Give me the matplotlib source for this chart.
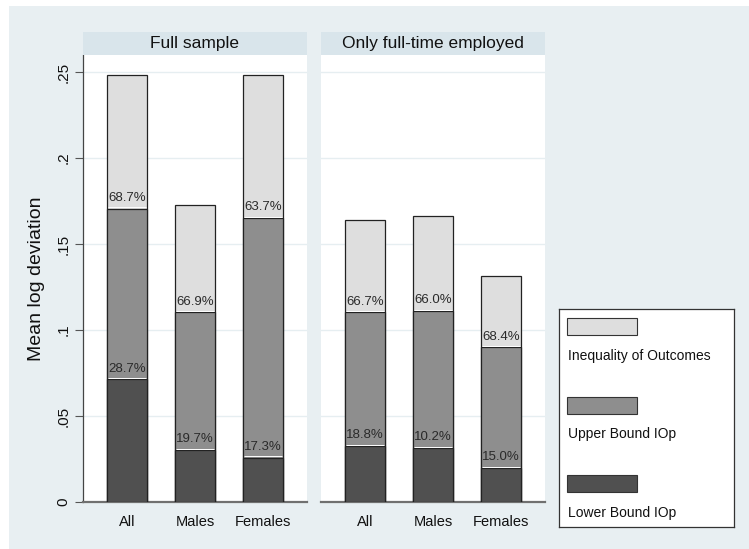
import matplotlib
matplotlib.use("Agg")
import matplotlib.pyplot as plt
from matplotlib.patches import Rectangle

plt.rcParams['font.family'] = ['Liberation Sans', 'DejaVu Sans']

# ---- data ----
categories = ["All", "Males", "Females"]
panels = ["Full sample", "Only full-time employed"]
# Mean log deviation (total inequality of outcomes), upper bound IOp, lower bound IOp
total_full = [0.2484, 0.1725, 0.2484]
upper_full = [0.1706, 0.1103, 0.1650]
lower_full = [0.0713, 0.0302, 0.0258]
total_ft = [0.1638, 0.1661, 0.1312]
upper_ft = [0.1103, 0.1110, 0.0899]
lower_ft = [0.0324, 0.0312, 0.0196]
upper_labels_full = ["68.7%", "66.9%", "63.7%"]
lower_labels_full = ["28.7%", "19.7%", "17.3%"]
upper_labels_ft = ["66.7%", "66.0%", "68.4%"]
lower_labels_ft = ["18.8%", "10.2%", "15.0%"]
yticks = [0, 0.05, 0.1, 0.15, 0.2, 0.25]
ytick_labels = ["0", ".05", ".1", ".15", ".2", ".25"]
legend_labels = ["Inequality of Outcomes", "Upper Bound IOp", "Lower Bound IOp"]

# ---- style ----
C_LIGHT = "#dedede"
C_MID = "#8e8e8e"
C_DARK = "#505050"
EDGE = "#222222"
BG = "#e8eff2"
STRIP = "#d9e5eb"
GRID = "#e6eef1"

W, H = 749, 549
fig = plt.figure(figsize=(W / 100, H / 100), dpi=100)
fig.patch.set_facecolor("white")
fig.patches.append(Rectangle((9 / W, 0), 1 - 9 / W, 1 - 6 / H, transform=fig.transFigure,
                             facecolor=BG, edgecolor="none", zorder=-10))

def px_rect(x0, y0, x1, y1):
    return [x0 / W, 1 - y1 / H, (x1 - x0) / W, (y1 - y0) / H]

data = [(total_full, upper_full, lower_full, upper_labels_full, lower_labels_full),
        (total_ft, upper_ft, lower_ft, upper_labels_ft, lower_labels_ft)]
xpos = [1, 2, 3]
half = 0.647
bw = 0.59

for i, (title, (tot, up, lo, ulab, llab)) in enumerate(zip(panels, data)):
    x0 = 83 if i == 0 else 321
    ax = fig.add_axes(px_rect(x0, 55, x0 + 224, 502))
    ax.set_facecolor("white")
    ax.bar(xpos, tot, width=bw, color=C_LIGHT, edgecolor=EDGE, linewidth=0.9, zorder=3)
    ax.bar(xpos, up, width=bw, color=C_MID, edgecolor=EDGE, linewidth=0.9, zorder=4)
    ax.bar(xpos, lo, width=bw, color=C_DARK, edgecolor=EDGE, linewidth=0.9, zorder=5)
    # thin white separators at segment boundaries
    ax.hlines([u + 0.0007 for u in up], [x - bw / 2 + 0.02 for x in xpos],
              [x + bw / 2 - 0.02 for x in xpos], colors="white", linewidth=0.7, zorder=6)
    ax.hlines([l + 0.0007 for l in lo], [x - bw / 2 + 0.02 for x in xpos],
              [x + bw / 2 - 0.02 for x in xpos], colors="white", linewidth=0.7, zorder=6)
    for x, u, l, ut, lt in zip(xpos, up, lo, ulab, llab):
        ax.annotate(ut, (x, u), xytext=(0, 3.5), textcoords="offset points",
                    ha="center", va="bottom", fontsize=9.5, color="#2a2a2a", zorder=7)
        ax.annotate(lt, (x, l), xytext=(0, 3.5), textcoords="offset points",
                    ha="center", va="bottom", fontsize=9.5, color="#2a2a2a", zorder=7)
    ax.set_xlim(1 - half, 3 + half)
    ax.set_ylim(0, 0.26)
    ax.set_yticks(yticks)
    ax.grid(axis="y", color=GRID, linewidth=1.0, zorder=0)
    ax.set_axisbelow(True)
    ax.set_xticks(xpos)
    ax.set_xticklabels(categories, fontsize=10.5, color="#111111")
    ax.tick_params(axis="x", length=0, pad=9)
    for s in ["top", "right"]:
        ax.spines[s].set_visible(False)
    ax.spines["bottom"].set_color("#707070")
    ax.spines["bottom"].set_linewidth(1.6)
    if i == 0:
        ax.set_yticklabels(ytick_labels, rotation=90, va="center", fontsize=11, color="#111111")
        ax.tick_params(axis="y", length=6, width=0.8, color="#555555", pad=3)
        ax.spines["left"].set_color("#444444")
        ax.spines["left"].set_linewidth(0.9)
        ax.set_ylabel("Mean log deviation", fontsize=14, color="#111111", labelpad=8)
    else:
        ax.spines["left"].set_visible(False)
        ax.tick_params(axis="y", length=0, labelleft=False)
    # strip title
    sax = fig.add_axes(px_rect(x0, 32, x0 + 224, 55))
    sax.set_facecolor(STRIP)
    sax.set_xticks([])
    sax.set_yticks([])
    for s in sax.spines.values():
        s.set_visible(False)
    sax.text(0.5, 0.5, title, ha="center", va="center", fontsize=12.5, color="#111111",
             transform=sax.transAxes)

# ---- legend ----
lax = fig.add_axes(px_rect(559, 309, 734, 527))
lax.set_xlim(559, 734)
lax.set_ylim(527, 309)
lax.set_facecolor("white")
lax.set_xticks([])
lax.set_yticks([])
for s in lax.spines.values():
    s.set_color("#333333")
    s.set_linewidth(0.9)
colors = [C_LIGHT, C_MID, C_DARK]
patch_tops = [318, 397, 475]
text_ys = [356, 434, 513]
for c, py, ty, lab in zip(colors, patch_tops, text_ys, legend_labels):
    lax.add_patch(Rectangle((567, py), 70, 17, facecolor=c, edgecolor="#333333", linewidth=0.8))
    lax.text(568, ty, lab, ha="left", va="center", fontsize=10, color="#111111")

fig.savefig("out.png", dpi=100, facecolor=fig.get_facecolor())
